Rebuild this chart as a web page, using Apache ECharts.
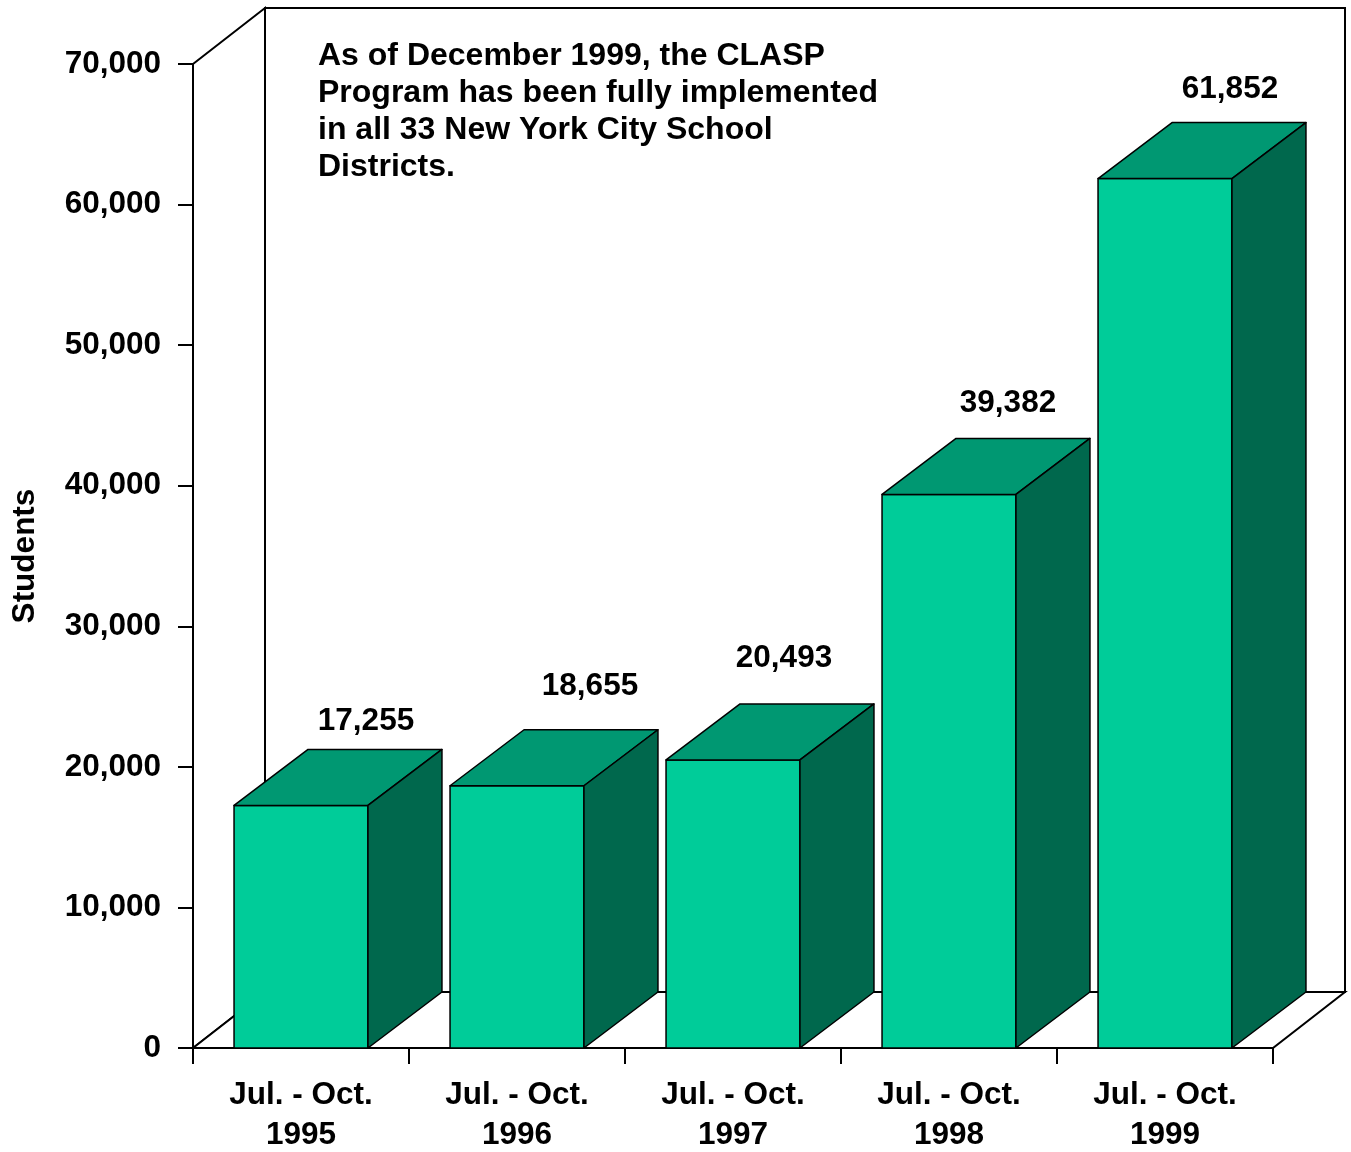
<!DOCTYPE html>
<html>
<head>
<meta charset="utf-8">
<title>CLASP Program Students</title>
<script src="https://cdn.jsdelivr.net/npm/echarts@6/dist/echarts.min.js"></script>
<style>
  html, body { margin: 0; padding: 0; background: #fff; }
  #chart { width: 1351px; height: 1152px; }
</style>
</head>
<body>
<div id="chart"></div>
<script>
// data
var categories = ["Jul. - Oct.\n1995", "Jul. - Oct.\n1996", "Jul. - Oct.\n1997", "Jul. - Oct.\n1998", "Jul. - Oct.\n1999"];
var students = [17255, 18655, 20493, 39382, 61852];
var yTicks = [0, 10000, 20000, 30000, 40000, 50000, 60000, 70000];
var note = "As of December 1999, the CLASP\nProgram has been fully implemented\nin all 33 New York City School\nDistricts.";

var FONT = "'Liberation Sans', Arial, sans-serif";
var FRONT = "#00CC99", TOP = "#009872", SIDE = "#00684D";
var BAR_RATIO = 0.62;   // front face width / category band
var BAR_DX = 74, BAR_DY = 56;    // bar depth
var WALL_DX = 72, WALL_DY = 56;  // back wall depth
// the value labels were placed by hand in the original, nudge each one
var labelNudge = [[65, -28], [73, -43], [51, -46], [59, -35], [65, -33]];

function fmt(v) {
  return Number(v).toLocaleString("en-US");
}

// back wall, left wall and floor of the 3d box
function renderWall(params, api) {
  var cs = params.coordSys;
  var L = cs.x, T = cs.y, R = cs.x + cs.width, B = cs.y + cs.height;
  var st = { fill: "#fff", stroke: "#000", lineWidth: 2 };
  return {
    type: "group",
    children: [
      { type: "rect", shape: { x: L + WALL_DX, y: T - WALL_DY, width: cs.width, height: cs.height }, style: st },
      { type: "polygon", shape: { points: [[L, T], [L + WALL_DX, T - WALL_DY], [L + WALL_DX, B - WALL_DY], [L, B]] }, style: st },
      { type: "polygon", shape: { points: [[L, B], [L + WALL_DX, B - WALL_DY], [R + WALL_DX, B - WALL_DY], [R, B]] }, style: st }
    ]
  };
}

function renderBar(params, api) {
  var idx = api.value(0);
  var val = api.value(1);
  var top = api.coord([idx, val]);
  var base = api.coord([idx, 0]);
  var w = api.size([1, 0])[0] * BAR_RATIO;
  var x0 = top[0] - w / 2, x1 = top[0] + w / 2;
  var yT = top[1], yB = base[1];
  var line = { stroke: "#000", lineWidth: 1.5, lineJoin: "round" };
  var nudge = labelNudge[params.dataIndex];
  return {
    type: "group",
    children: [
      { type: "rect", shape: { x: x0, y: yT, width: w, height: yB - yT },
        style: Object.assign({ fill: FRONT }, line) },
      { type: "polygon", shape: { points: [[x0, yT], [x0 + BAR_DX, yT - BAR_DY], [x1 + BAR_DX, yT - BAR_DY], [x1, yT]] },
        style: Object.assign({ fill: TOP }, line) },
      { type: "polygon", shape: { points: [[x1, yT], [x1 + BAR_DX, yT - BAR_DY], [x1 + BAR_DX, yB - BAR_DY], [x1, yB]] },
        style: Object.assign({ fill: SIDE }, line) },
      { type: "text", x: top[0] + nudge[0], y: yT - BAR_DY + nudge[1],
        style: { text: fmt(val), fill: "#000", font: "bold 31.5px " + FONT, align: "center", verticalAlign: "middle" } }
    ]
  };
}

var chart = echarts.init(document.getElementById("chart"));
chart.setOption({
  animation: false,
  backgroundColor: "#fff",
  title: {
    text: note,
    left: 313,
    top: 33,
    textStyle: { fontFamily: FONT, fontWeight: "bold", fontSize: 32, lineHeight: 37, color: "#000" }
  },
  grid: { left: 193, right: 78, top: 64, bottom: 104, containLabel: false, outerBoundsMode: "none" },
  xAxis: {
    type: "category",
    data: categories,
    axisLine: { show: true, lineStyle: { color: "#000", width: 2 } },
    axisTick: { show: true, length: 16, lineStyle: { color: "#000", width: 2 } },
    axisLabel: { color: "#000", fontFamily: FONT, fontWeight: "bold", fontSize: 31.5, lineHeight: 40, margin: 27, interval: 0 }
  },
  yAxis: {
    type: "value",
    min: yTicks[0],
    max: yTicks[yTicks.length - 1],
    interval: yTicks[1] - yTicks[0],
    name: "Students",
    nameLocation: "middle",
    nameGap: 152,
    nameRotate: 90,
    nameTextStyle: { color: "#000", fontFamily: FONT, fontWeight: "bold", fontSize: 31.5 },
    axisLine: { show: true, lineStyle: { color: "#000", width: 2 } },
    axisTick: { show: true, length: 15, lineStyle: { color: "#000", width: 2 } },
    splitLine: { show: false },
    axisLabel: { color: "#000", fontFamily: FONT, fontWeight: "bold", fontSize: 31.5, margin: 32, formatter: fmt }
  },
  series: [
    { type: "custom", z: 1, silent: true, renderItem: renderWall, data: [[0, 0]] },
    { type: "custom", z: 2, renderItem: renderBar,
      data: students.map(function (v, i) { return [i, v]; }) }
  ]
});
</script>
</body>
</html>
